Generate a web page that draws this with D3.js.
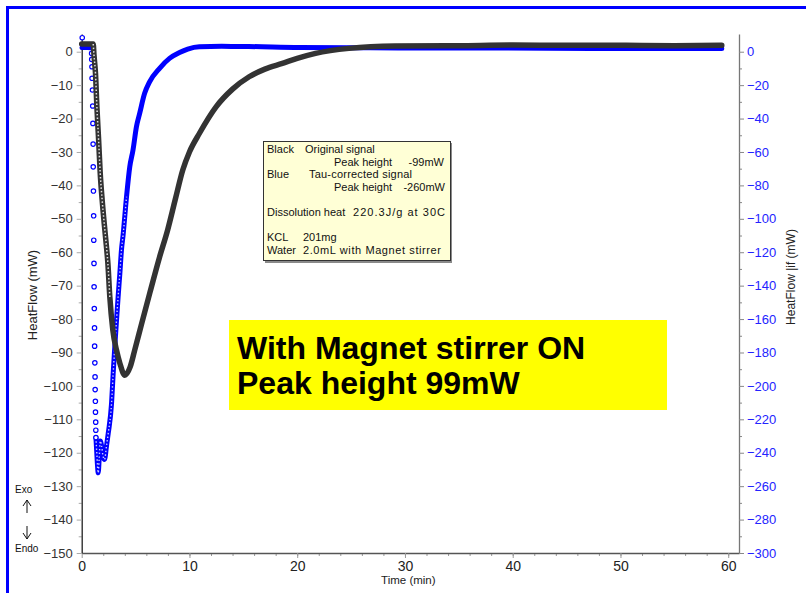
<!DOCTYPE html>
<html>
<head>
<meta charset="utf-8">
<script src="https://cdn.jsdelivr.net/npm/d3@7"></script>
<style>
  body { margin: 0; background: #fff; }
  svg { display: block; font-family: "Liberation Sans", Arial, sans-serif; }
</style>
</head>
<body>
<script>
(function (d3) {
  "use strict";

  /***** Data *****/
  // Black: original signal, left axis (mW), [time min, mW]
  var blackPoints = [
    [0, 2.3], [0.5, 2.3], [1.07, 2.3], [1.14, -1], [1.28, -6.5], [1.41, -16.5],
    [1.57, -26.4], [1.72, -36.4], [1.90, -44.4], [2.12, -52.4], [2.24, -56.4],
    [2.43, -63.3], [2.61, -73.4], [2.89, -83.3], [3.23, -89.3], [3.54, -93.2],
    [4.0, -96.8], [4.5, -94.3], [4.92, -89.3], [5.57, -81.3], [6.31, -72.3],
    [7.23, -61.4], [7.97, -53.4], [8.7, -44], [9.38, -35.4], [10.0, -30],
    [10.93, -24.4], [12.47, -16.5], [14, -11.2], [15.54, -7.5], [17, -5.2],
    [18.62, -3.5], [20, -2.0], [21.7, -0.5], [24.8, 1.0], [29.1, 1.7], [35, 1.8],
    [40, 2.0], [45, 1.9], [50, 1.9], [55, 1.8], [59.4, 1.9]
  ];
  var blackDropRange = [1.07, 2.7];

  // Blue: tau-corrected signal, right axis (mW)
  var blueFlat = [[0, 2.4], [0.5, 2.4], [0.9, 2.2]];
  var blueSparse = [
    [0.05, 8.4], [0.92, -1.0], [0.93, -4.6], [0.95, -9.0], [0.96, -15.9], [1.0, -22.9],
    [1.02, -32.5], [1.04, -42.9], [1.06, -55.3], [1.07, -68.9], [1.09, -83.4],
    [1.11, -98.2], [1.12, -112.8], [1.14, -126.7], [1.15, -140.7], [1.17, -153.7],
    [1.19, -165.3], [1.20, -176.2], [1.22, -186.2], [1.24, -194.6], [1.25, -202.2],
    [1.27, -209.2], [1.28, -215.7], [1.30, -221.7], [1.31, -226.5], [1.32, -230.9]
  ];
  var blueMain = [
    [1.32, -231], [1.40, -240], [1.47, -248], [1.53, -252], [1.62, -244],
    [1.72, -233], [1.85, -236], [1.98, -242], [2.12, -244], [2.3, -236],
    [2.46, -228.5], [2.77, -210.5], [2.92, -192.6], [3.07, -176.6], [3.23, -160.7],
    [3.38, -146.7], [3.54, -132.7], [3.69, -118.7], [3.84, -109.8], [4.16, -86.8],
    [4.46, -68.9], [4.76, -58.9], [5.08, -44.9], [5.38, -36.9], [5.84, -24.9],
    [6.3, -18], [7.23, -9.9], [8.15, -4.0], [9.08, -0.5], [9.84, 1.6], [10.92, 3.0],
    [13, 3.2], [15.5, 3.1], [20.2, 2.5], [25, 2.4], [29.4, 2.2], [38.6, 2.2],
    [47.9, 1.9], [59.4, 1.9]
  ];
  var blueDotRange = [1.32, 4.3];

  var xTicks = [0, 10, 20, 30, 40, 50, 60];
  var leftTicks = d3.range(-150, 1, 10);
  var rightTicks = d3.range(-300, 1, 20);

  // note rows: [text, x, anchor, stretched width]
  var legendLines = [
    [["Black", 4], ["Original signal", 42]],
    [["Peak height", 71], ["-99mW", 181, "end"]],
    [["Blue", 4], ["Tau-corrected signal", 46, "start", 103]],
    [["Peak height", 71], ["-260mW", 182, "end"]],
    [],
    [["Dissolution heat", 4], ["220.3J/g at 30C", 90, "start", 92]],
    [],
    [["KCL", 4], ["201mg", 40]],
    [["Water", 4], ["2.0mL with Magnet stirrer", 40, "start", 138]]
  ];
  var bannerLines = ["With Magnet stirrer ON", "Peak height 99mW"];

  /***** Configuration *****/
  var width = 806, height = 593;
  var plot = { left: 81.7, right: 739, top: 34, bottom: 553 };

  var xScale = d3.scaleLinear().domain([0, 61]).range([plot.left, plot.right]);
  var yLeft = d3.scaleLinear().domain([-150, 5.3]).range([plot.bottom, plot.top]);
  var yRight = d3.scaleLinear().domain([-300, 10.6]).range([plot.bottom, plot.top]);

  var svg = d3.select("body").append("svg")
      .attr("width", width)
      .attr("height", height);

  // slide frame
  svg.append("rect")
      .attr("x", 7.5).attr("y", 7.5)
      .attr("width", 820).attr("height", 610)
      .attr("fill", "none")
      .attr("stroke", "#0000ff")
      .attr("stroke-width", 3);

  /***** Axes *****/
  function styleAxis(g, lineColor, tickColor, textColor) {
    g.select(".domain").attr("stroke", lineColor).attr("stroke-width", 1.3);
    g.selectAll(".tick line").attr("stroke", tickColor);
    g.selectAll(".tick text").attr("fill", textColor).attr("font-size", 13);
  }

  var gx = svg.append("g").attr("transform", "translate(0," + plot.bottom + ")");
  gx.call(d3.axisBottom(xScale).tickValues(d3.range(2, 61, 2)).tickSize(3).tickFormat(""));
  gx.selectAll(".domain").remove();
  gx.selectAll(".tick line").attr("stroke", "#999");
  var gx2 = svg.append("g").attr("transform", "translate(0," + plot.bottom + ")");
  gx2.call(d3.axisBottom(xScale).tickValues(xTicks).tickSize(5).tickPadding(3).tickSizeOuter(0));
  styleAxis(gx2, "#555", "#999", "#222");
  gx2.selectAll(".tick text").attr("font-size", 14);

  var gl = svg.append("g").attr("transform", "translate(" + plot.left + ",0)");
  gl.call(d3.axisLeft(yLeft).tickValues(d3.range(-145, 5, 10)).tickSize(3).tickFormat(""));
  gl.selectAll(".domain").remove();
  gl.selectAll(".tick line").attr("stroke", "#aaa");
  var gl2 = svg.append("g").attr("transform", "translate(" + plot.left + ",0)");
  gl2.call(d3.axisLeft(yLeft).tickValues(leftTicks).tickSize(5).tickPadding(4).tickSizeOuter(0));
  styleAxis(gl2, "#222", "#aaa", "#333");

  var gr = svg.append("g").attr("transform", "translate(" + plot.right + ",0)");
  gr.call(d3.axisRight(yRight).tickValues(d3.range(-290, 10, 20)).tickSize(3).tickFormat(""));
  gr.selectAll(".domain").remove();
  gr.selectAll(".tick line").attr("stroke", "#888");
  var gr2 = svg.append("g").attr("transform", "translate(" + plot.right + ",0)");
  gr2.call(d3.axisRight(yRight).tickValues(rightTicks).tickSize(5).tickPadding(3).tickSizeOuter(0));
  styleAxis(gr2, "#777", "#888", "#2323ff");

  svg.append("text")
      .attr("x", (plot.left + plot.right) / 2 - 2).attr("y", 584)
      .attr("text-anchor", "middle").attr("font-size", 11.5).attr("fill", "#222")
      .text("Time (min)");
  svg.append("text")
      .attr("transform", "translate(37,295) rotate(-90)")
      .attr("text-anchor", "middle").attr("font-size", 13).attr("fill", "#222")
      .text("HeatFlow (mW)");
  svg.append("text")
      .attr("transform", "translate(795,277) rotate(-90)")
      .attr("text-anchor", "middle").attr("font-size", 12).attr("fill", "#222")
      .text("HeatFlow |if (mW)");

  // Exo / Endo
  var exo = svg.append("g").attr("font-size", 10).attr("fill", "#111");
  exo.append("text").attr("x", 15).attr("y", 493).text("Exo");
  exo.append("text").attr("x", 15).attr("y", 552).text("Endo");
  exo.append("path").attr("d", "M27,513V500M23,506L27,500L31,506")
      .attr("fill", "none").attr("stroke", "#111").attr("stroke-width", 1);
  exo.append("path").attr("d", "M27,526V539M23,533L27,539L31,533")
      .attr("fill", "none").attr("stroke", "#111").attr("stroke-width", 1);

  /***** Series *****/
  var lineL = d3.line().x(function (d) { return xScale(d[0]); })
      .y(function (d) { return yLeft(d[1]); }).curve(d3.curveMonotoneX);
  var lineR = d3.line().x(function (d) { return xScale(d[0]); })
      .y(function (d) { return yRight(d[1]); }).curve(d3.curveMonotoneX);

  var series = svg.append("g");

  // blue
  series.append("path").attr("d", lineR(blueFlat))
      .attr("fill", "none").attr("stroke", "#0000ff").attr("stroke-width", 4.5)
      .attr("stroke-linecap", "round");
  series.append("path").attr("d", lineR(blueMain))
      .attr("fill", "none").attr("stroke", "#0000ff").attr("stroke-width", 5)
      .attr("stroke-linecap", "round").attr("stroke-linejoin", "round");
  var blueDots = blueMain.filter(function (d) { return d[0] >= blueDotRange[0] && d[0] <= blueDotRange[1]; });
  series.append("path").attr("d", lineR(blueDots))
      .attr("fill", "none").attr("stroke", "#fff").attr("stroke-width", 1.4)
      .attr("stroke-dasharray", "1.4 2.2").attr("opacity", 0.8);
  series.selectAll("circle.sparse").data(blueSparse).join("circle")
      .attr("class", "sparse")
      .attr("cx", function (d) { return xScale(d[0]); })
      .attr("cy", function (d) { return yRight(d[1]); })
      .attr("r", 2.2)
      .attr("fill", "#fff").attr("stroke", "#0000ff").attr("stroke-width", 1.2);

  // black
  series.append("path").attr("d", lineL(blackPoints))
      .attr("fill", "none").attr("stroke", "#333").attr("stroke-width", 5.5)
      .attr("stroke-linecap", "round").attr("stroke-linejoin", "round");
  var blackDrop = blackPoints.filter(function (d) { return d[0] >= blackDropRange[0] && d[0] <= blackDropRange[1]; });
  series.append("path").attr("d", lineL(blackDrop))
      .attr("fill", "none").attr("stroke", "#fff").attr("stroke-width", 1.5)
      .attr("stroke-dasharray", "1.5 2").attr("opacity", 0.85);

  /***** Legend note *****/
  var note = svg.append("g").attr("transform", "translate(263,141)");
  note.append("rect").attr("x", 2).attr("y", 2).attr("width", 187).attr("height", 120)
      .attr("fill", "#8a8a8a");
  note.append("rect").attr("x", 0.5).attr("y", 0.5).attr("width", 187).attr("height", 119)
      .attr("fill", "#ffffd6").attr("stroke", "#333").attr("stroke-width", 1);
  var rows = note.selectAll("g.row").data(legendLines).join("g")
      .attr("class", "row")
      .attr("transform", function (d, i) { return "translate(0," + (12 + i * 12.6) + ")"; })
      .attr("font-size", 11).attr("fill", "#111");
  rows.selectAll("text").data(function (d) { return d; }).join("text")
      .attr("x", function (d) { return d[1]; })
      .attr("text-anchor", function (d) { return d[2] || "start"; })
      .each(function (d) {
        if (d[3]) d3.select(this).attr("textLength", d[3]).attr("lengthAdjust", "spacing");
      })
      .text(function (d) { return d[0]; });

  /***** Banner *****/
  var banner = svg.append("g").attr("transform", "translate(229,320)");
  banner.append("rect").attr("width", 438).attr("height", 90).attr("fill", "#ffff00");
  banner.selectAll("text").data(bannerLines).join("text")
      .attr("x", 8)
      .attr("y", function (d, i) { return 39 + i * 35; })
      .attr("font-size", 32).attr("font-weight", "bold").attr("fill", "#000")
      .text(function (d) { return d; });

})(d3);
</script>
</body>
</html>
